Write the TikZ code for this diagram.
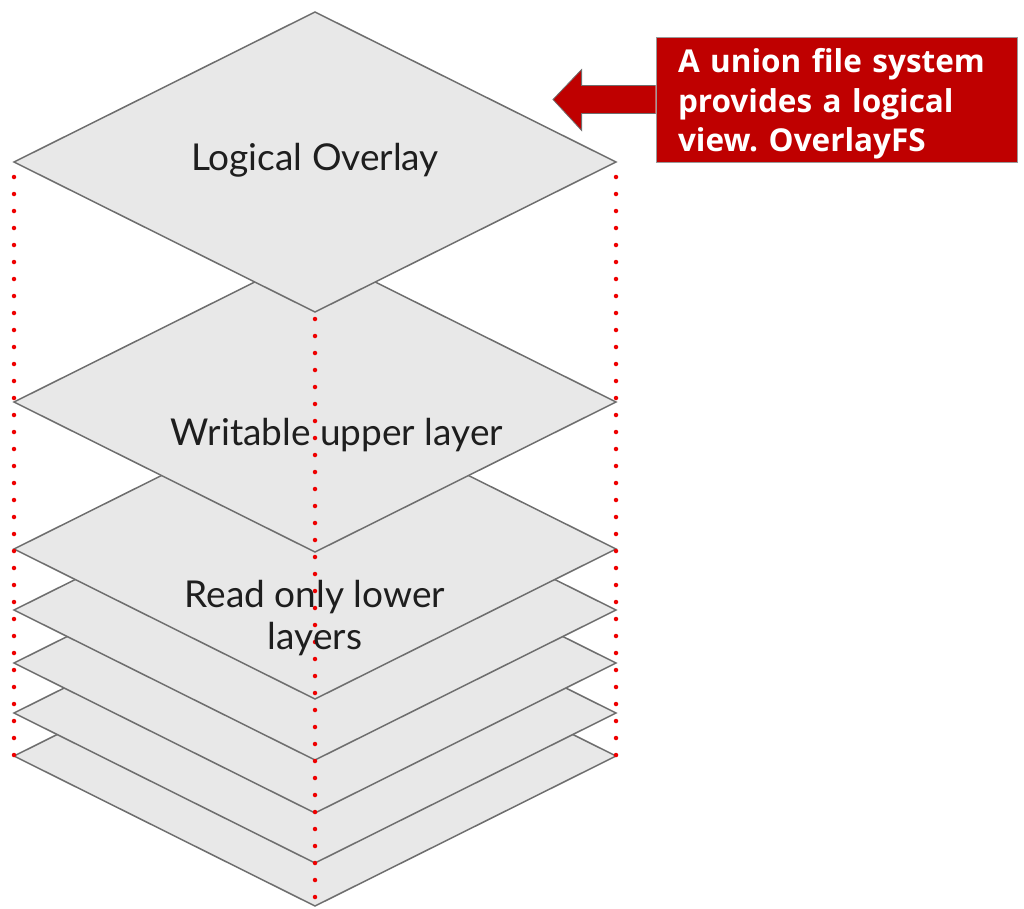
\documentclass[tikz,border=0pt]{standalone}
\usepackage{fontspec}
\setmainfont{Lato}
\newfontfamily\notefont{Open Sans}
\usetikzlibrary{shapes.geometric,backgrounds}
\definecolor{layerfill}{HTML}{E8E8E8}
\definecolor{layeredge}{HTML}{6E6E6E}
\definecolor{dotred}{HTML}{EE0000}
\definecolor{notered}{HTML}{BF0000}
\definecolor{labeltext}{HTML}{1E1E1E}
\tikzset{
  layer/.style={shape=diamond, draw=layeredge, fill=layerfill, line width=1.5pt,
    minimum width=602pt, minimum height=300pt, inner sep=0pt, outer sep=0pt},
  guide/.style={draw=dotred, line width=4.5pt, line cap=round, dash pattern=on 0pt off 17pt},
  lbl/.style={text=labeltext, font=\fontsize{37}{42}\selectfont, align=center, inner sep=0pt},
  notebox/.style={fill=notered, draw=layeredge!70, line width=0.8pt, minimum width=361pt,
    minimum height=125pt, inner sep=0pt},
  notetext/.style={inner sep=0pt, text width=319pt, align=left,
    text=white, font=\notefont\bfseries\fontsize{31.5}{39.5}\selectfont},
  arrowshape/.style={fill=notered, draw=layeredge, line width=0.8pt, line join=miter}
}
\frenchspacing
\begin{document}
\begin{tikzpicture}[x=1pt,y=-1pt]
\useasboundingbox (0,0) rectangle (1024,908);
% layers, bottom first
\node[layer] (L5) at (315,756) {};
\node[layer] (L4) at (315,713) {};
\node[layer] (L3) at (315,663) {};
\node[layer] (L2) at (315,610) {};
\node[layer] (L1) at (315,549) {};
\node[layer] (W)  at (315,402) {};
\node[layer] (O)  at (315,162) {};
% dotted guides
\draw[guide, shorten <=15pt] (O.west) -- (L5.west);
\draw[guide, shorten <=15pt] (O.east) -- (L5.east);
\draw[guide, shorten <=7pt] (O.south) -- (L5.south);
% labels
\node[lbl] (tO) at (315,160) {Logical Overlay};
\node[lbl] (tW) at (337,435) {Writable upper layer};
\node[lbl] (tR) at (315,618) {Read only lower\\layers};
% note with arrow
\node[notebox] (note) at (836.5,99.5) {};
\node[notetext] (notetxt) at (837.5,104) {A union file system\\provides a logical\\view. OverlayFS};
\coordinate (tip) at (553,99.5);
\begin{scope}[on background layer]
\draw[arrowshape] ([yshift=14pt]note.west) -- ++(-74,0) -- ++(0,-16) -- (tip)
  -- ([xshift=-74pt,yshift=-31pt]note.west) -- ++(0,-17) -- ([yshift=-14pt]note.west);
\end{scope}
\end{tikzpicture}
\end{document}
